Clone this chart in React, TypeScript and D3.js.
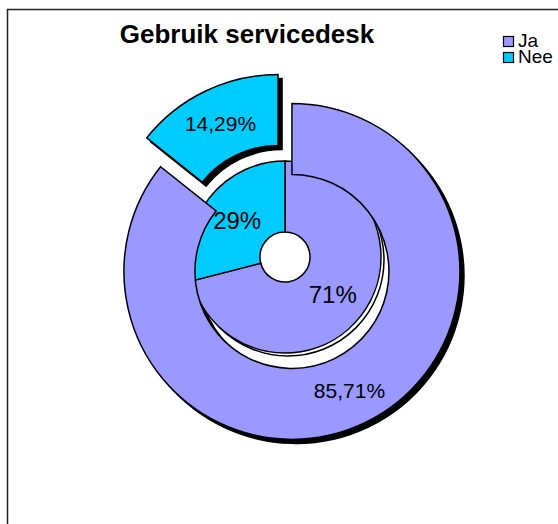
import React from "react";
import * as d3 from "d3";

// chart data
const categories = ["Ja", "Nee"];
const outerValues = [85.71, 14.29];
const innerValues = [71, 29];
const outerLabels = ["85,71%", "14,29%"];
const innerLabels = ["71%", "29%"];
const colors = ["#9999FF", "#00CCFF"];

const W = 558;
const H = 524;
const cx = 285;
const cy = 257;
const holeR = 25;
const innerR = 96;
const outerIn = 97;
const outerOut = 168;
const explode = 16;
const shadow = 4;

export default function App() {
    const pie = d3.pie<number>().sort(null).value(d => d);
    const outerArcs = pie(outerValues);
    const innerArcs = pie(innerValues);

    const outerArc = d3.arc<d3.PieArcDatum<number>>().innerRadius(outerIn).outerRadius(outerOut);
    const innerArc = d3.arc<d3.PieArcDatum<number>>().innerRadius(holeR).outerRadius(innerR);

    // explode offset of outer ring slices along their mid angle
    const offset = (a: d3.PieArcDatum<number>) => {
        const m = (a.startAngle + a.endAngle) / 2;
        return [Math.sin(m) * explode, -Math.cos(m) * explode];
    };
    const mid = (a: d3.PieArcDatum<number>, r: number) => {
        const m = (a.startAngle + a.endAngle) / 2;
        return [Math.sin(m) * r, -Math.cos(m) * r];
    };

    const font = "'Liberation Sans', Arial, sans-serif";

    return (
        <div style={{ position: "absolute", left: 0, top: 0 }}>
            <svg width={W} height={H} style={{ display: "block" }}>
                <rect x={0} y={0} width={W} height={H} fill="white" />
                <rect x={7.5} y={9.5} width={W + 20} height={H + 20} fill="none" stroke="#222" strokeWidth={1.5} />

                <text x={247} y={43} textAnchor="middle" fontFamily={font} fontWeight="bold" fontSize={26}>
                    Gebruik servicedesk
                </text>

                {/* shadows */}
                {outerArcs.map((a, i) => {
                    const [dx, dy] = offset(a);
                    return (
                        <path key={"s" + i} d={outerArc(a) || ""}
                            transform={`translate(${cx + dx + shadow}, ${cy + dy + shadow})`}
                            fill="black" stroke="black" strokeWidth={1.5} />
                    );
                })}
                <g transform={`translate(${cx + 3}, ${cy + 3})`}>
                    <circle r={innerR} fill="white" stroke="black" strokeWidth={1.5} />
                </g>

                {/* inner ring */}
                <g transform={`translate(${cx}, ${cy})`}>
                    {innerArcs.map((a, i) => (
                        <path key={"i" + i} d={innerArc(a) || ""} fill={colors[i]} stroke="black" strokeWidth={1.5} />
                    ))}
                </g>

                {/* outer ring, exploded */}
                {outerArcs.map((a, i) => {
                    const [dx, dy] = offset(a);
                    return (
                        <path key={"o" + i} d={outerArc(a) || ""}
                            transform={`translate(${cx + dx}, ${cy + dy})`}
                            fill={colors[i]} stroke="black" strokeWidth={1.5} />
                    );
                })}

                {/* labels */}
                {outerArcs.map((a, i) => {
                    const [dx, dy] = offset(a);
                    const [lx, ly] = mid(a, (outerIn + outerOut) / 2);
                    return (
                        <text key={"ol" + i} x={cx + dx + lx} y={cy + dy + ly} dy="0.36em"
                            textAnchor="middle" fontFamily={font} fontSize={21}>
                            {outerLabels[i]}
                        </text>
                    );
                })}
                {innerArcs.map((a, i) => {
                    const [lx, ly] = mid(a, (holeR + innerR) / 2);
                    return (
                        <text key={"il" + i} x={cx + lx} y={cy + ly} dy="0.36em"
                            textAnchor="middle" fontFamily={font} fontSize={24}>
                            {innerLabels[i]}
                        </text>
                    );
                })}

                {/* legend */}
                {categories.map((c, i) => (
                    <g key={"l" + i} transform={`translate(503, ${36 + i * 16})`}>
                        <rect x={0.5} y={0.5} width={10} height={10} fill={colors[i]} stroke="black" strokeWidth={1.2} />
                        <text x={15} y={11} fontFamily={font} fontSize={19}>{c}</text>
                    </g>
                ))}
            </svg>
        </div>
    );
}
